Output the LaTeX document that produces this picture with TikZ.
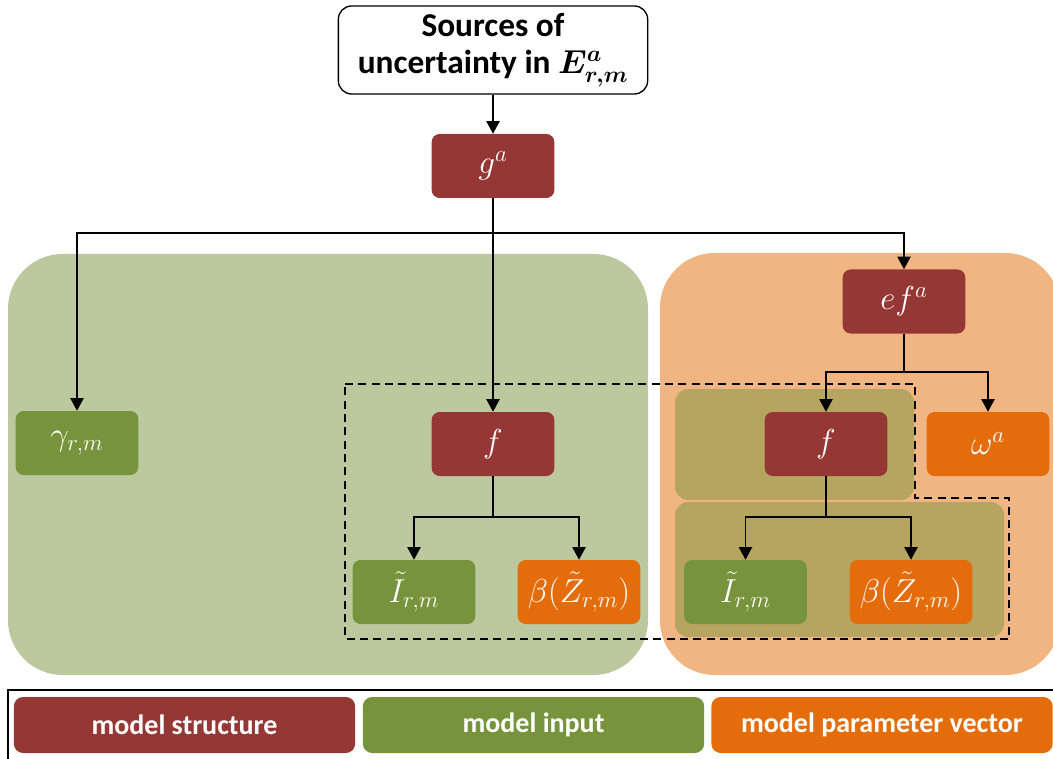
\documentclass[tikz,border=0pt]{standalone}
\usepackage{amsmath,amssymb,bm}
\usepackage{fontspec}
\newfontfamily\calib{Carlito}
\usetikzlibrary{arrows.meta,calc,positioning}

\definecolor{structred}{RGB}{149,55,53}
\definecolor{inputgreen}{RGB}{119,147,60}
\definecolor{paramorange}{RGB}{228,108,10}
\definecolor{bggreen}{RGB}{188,201,159}
\definecolor{bgorange}{RGB}{241,181,131}
\definecolor{bgolive}{RGB}{182,165,96}

\begin{document}
\begin{tikzpicture}[x=0.75pt,y=-0.75pt,
  box/.style={rectangle,rounded corners=6pt,minimum width=92pt,minimum height=48pt,
    inner sep=0pt,text=white,font=\fontsize{25}{28}\selectfont},
  structbox/.style={box,fill=structred},
  inputbox/.style={box,fill=inputgreen},
  parambox/.style={box,fill=paramorange},
  legbox/.style={rectangle,rounded corners=7pt,minimum width=256pt,minimum height=42pt,
    inner sep=0pt,text=white,font=\calib\bfseries\fontsize{21}{24}\selectfont},
  arr/.style={-{Triangle[width=10pt,length=9.5pt]},line width=1.1pt}]
\useasboundingbox (0,0) rectangle (1053,759);

% shaded groups
\fill[bggreen,rounded corners=41pt] (8,254) rectangle (648,675);
\fill[bgorange,rounded corners=41pt] (660,253) rectangle (1060,675);
\fill[bgolive,rounded corners=10pt] (675,389) rectangle (914,500);
\fill[bgolive,rounded corners=10pt] (675,502) rectangle (1004,637);
\draw[line width=1.5pt,dash pattern=on 6pt off 4pt]
  (345,384) -- (915,384) -- (915,498) -- (1009,498) -- (1009,639) -- (345,639) -- cycle;

% nodes
\node[draw,line width=1pt,rounded corners=10pt,fill=white,minimum width=232pt,minimum height=66pt,
  align=center,font=\calib\bfseries\fontsize{25}{28}\selectfont] (src) at (493,50)
  {Sources of\\uncertainty in $\bm{E^{a}_{r,m}}$};
\node[structbox] (ga) at (493,166) {$g^{a}$};
\node[structbox] (efa) at (904,301.5) {$ef^{a}$};
\node[inputbox] (gam) at (77,443) {$\gamma_{r,m}$};
\node[structbox] (fl) at (493,444) {$f$};
\node[inputbox] (il) at (414,592) {$\tilde{I}_{r,m}$};
\node[parambox] (bl) at (579,592) {$\beta(\tilde{Z}_{r,m})$};
\node[structbox] (fr) at (826,444) {$f$};
\node[parambox] (om) at (988,444) {$\omega^{a}$};
\node[inputbox] (ir) at (745.5,592) {$\tilde{I}_{r,m}$};
\node[parambox] (br) at (911,592) {$\beta(\tilde{Z}_{r,m})$};

\coordinate (gsplit) at (493,233);
\coordinate (esplit) at (904,372);
\coordinate (flsplit) at (493,517);
\coordinate (frsplit) at (826,517);

% connectors
\draw[arr] (src) -- (ga);
\draw[line width=1.1pt] (ga) -- (gsplit);
\draw[arr] (gsplit) -| (gam);
\draw[arr] (gsplit) -| (efa);
\draw[arr] (gsplit) -- (fl);
\draw[line width=1.1pt] (efa) -- (esplit);
\draw[arr] (esplit) -| (fr);
\draw[arr] (esplit) -| (om);
\draw[line width=1.1pt] (fl) -- (flsplit);
\draw[arr] (flsplit) -| (il);
\draw[arr] (flsplit) -| (bl);
\draw[line width=1.1pt] (fr) -- (frsplit);
\draw[arr] (frsplit) -| (ir);
\draw[arr] (frsplit) -| (br);

% legend
\draw[line width=0.8pt] (8,770) -- (8,690) -- (1070,690);
\node[legbox,fill=structred] (lstruct) at (184.5,725) {model structure};
\node[legbox,fill=inputgreen] (linput) at (533.5,725) {model input};
\node[legbox,fill=paramorange] (lparam) at (882,725) {model parameter vector};
\end{tikzpicture}
\end{document}
